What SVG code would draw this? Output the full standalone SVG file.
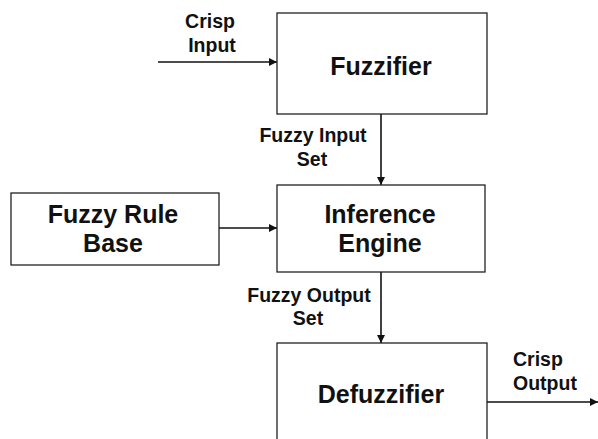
<svg xmlns="http://www.w3.org/2000/svg" width="598" height="439" viewBox="0 0 598 439">
<style>
.box{fill:#fff;stroke:#222;stroke-width:1.3}
.big{font-family:"Liberation Sans",Arial,sans-serif;font-weight:bold;font-size:25px;fill:#111;text-anchor:middle}
.lbl{font-family:"Liberation Sans",Arial,sans-serif;font-weight:bold;font-size:19.5px;fill:#111}
.c{text-anchor:middle}
.edge{stroke:#111;stroke-width:1.6;fill:none;marker-end:url(#ah)}
</style>
<defs>
<marker id="ah" viewBox="0 0 10 10" refX="10" refY="5" markerWidth="5" markerHeight="5" orient="auto" markerUnits="strokeWidth">
<path d="M0,0 L10,5 L0,10 z" fill="#111"/>
</marker>
</defs>
<rect width="598" height="439" fill="#fff"/>
<g id="edges">
<line class="edge" x1="158" y1="62" x2="277" y2="62"/>
<line class="edge" x1="219" y1="228" x2="277" y2="228"/>
<line class="edge" x1="381" y1="114" x2="381" y2="185"/>
<line class="edge" x1="381" y1="272" x2="381" y2="343"/>
<line class="edge" x1="487" y1="402" x2="598" y2="402"/>
</g>
<g id="fuzzifier">
<rect class="box" x="277" y="13" width="210" height="101"/>
<text class="big" x="381" y="75">Fuzzifier</text>
</g>
<g id="rulebase">
<rect class="box" x="11" y="193" width="208" height="72"/>
<text class="big" x="113" y="223">Fuzzy Rule</text>
<text class="big" x="113" y="252">Base</text>
</g>
<g id="inference">
<rect class="box" x="277" y="185" width="208" height="87"/>
<text class="big" x="380" y="223">Inference</text>
<text class="big" x="380" y="252">Engine</text>
</g>
<g id="defuzzifier">
<rect class="box" x="277" y="343" width="210" height="120"/>
<text class="big" x="381" y="403">Defuzzifier</text>
</g>
<g id="labels">
<text class="lbl c" x="210" y="28">Crisp</text>
<text class="lbl c" x="212" y="52">Input</text>
<text class="lbl c" x="313" y="142">Fuzzy Input</text>
<text class="lbl c" x="312" y="166">Set</text>
<text class="lbl c" x="309" y="302">Fuzzy Output</text>
<text class="lbl c" x="308" y="325">Set</text>
<text class="lbl" x="513" y="366">Crisp</text>
<text class="lbl" x="513" y="390">Output</text>
</g>
</svg>
